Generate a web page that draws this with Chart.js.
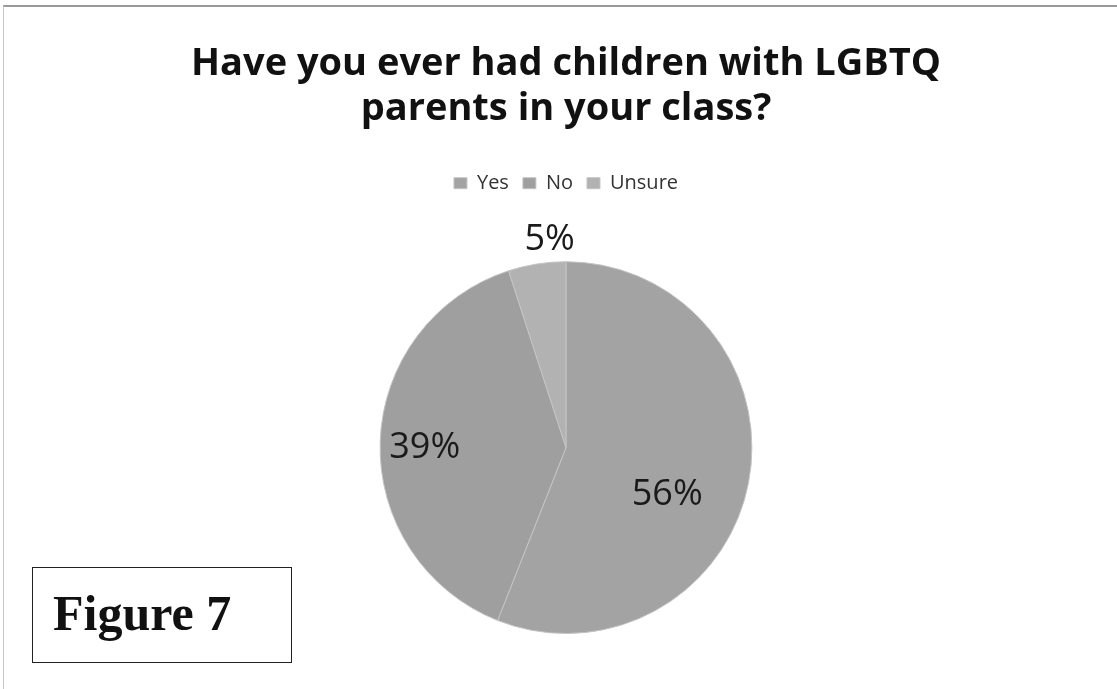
<!DOCTYPE html>
<html>
<head>
<meta charset="utf-8">
<script src="https://cdn.jsdelivr.net/npm/chart.js@4/dist/chart.umd.min.js"></script>
<style>
  html, body { margin: 0; padding: 0; background: #fff; }
  body { width: 1117px; height: 689px; position: relative; overflow: hidden; }
  #frame {
    position: absolute; left: 3px; top: 5px; width: 1120px; height: 700px;
    border-top: 2px solid #9a9a9a; border-left: 1px solid #c8c8c8;
  }
  #chartBox { position: absolute; left: 15px; top: 0; width: 1102px; height: 689px; }
  #figLabel {
    position: absolute; left: 32px; top: 567px; width: 260px; height: 96px;
    border: 1.5px solid #222; background: #fff;
    font-family: "Liberation Serif", "Times New Roman", serif; font-weight: bold;
    font-size: 50px; color: #111; line-height: 90px; padding-left: 20px; box-sizing: border-box;
  }
</style>
</head>
<body>
<div id="frame"></div>
<div id="chartBox"><canvas id="pieChart"></canvas></div>
<div id="figLabel">Figure 7</div>
<script>
// Survey answers, percent of respondents
const answers = ['Yes', 'No', 'Unsure'];
const shares = [56, 39, 5];
const sliceColors = ['#a3a3a3', '#9f9f9f', '#b2b2b2'];

// where each percentage sits: fraction of radius, extra angle (deg) from slice middle
const labelRadius = [0.6, 0.76, 1.12];
const labelTurn = [14, -2, 4.5];

// leave room under the legend for the outside label
const legendGap = {
  id: 'legendGap',
  beforeInit(chart) {
    const origFit = chart.legend.fit;
    chart.legend.fit = function () {
      origFit.call(this);
      this.height += 58;
    };
  }
};

const pctLabels = {
  id: 'pctLabels',
  afterDatasetsDraw(chart) {
    const ctx = chart.ctx;
    const meta = chart.getDatasetMeta(0);
    ctx.save();
    ctx.font = '36px "Open Sans", sans-serif';
    ctx.fillStyle = '#1a1a1a';
    ctx.textAlign = 'center';
    ctx.textBaseline = 'middle';
    meta.data.forEach((arc, i) => {
      const p = arc.getProps(['x', 'y', 'startAngle', 'endAngle', 'outerRadius'], true);
      const mid = (p.startAngle + p.endAngle) / 2 + labelTurn[i] * Math.PI / 180;
      const r = p.outerRadius * labelRadius[i];
      ctx.fillText(shares[i] + '%', p.x + Math.cos(mid) * r, p.y + Math.sin(mid) * r);
    });
    ctx.restore();
  }
};

const chart = new Chart(document.getElementById('pieChart'), {
  type: 'pie',
  data: {
    labels: answers,
    datasets: [{
      data: shares,
      backgroundColor: sliceColors,
      borderColor: '#c4c4c4',
      borderWidth: 1
    }]
  },
  options: {
    responsive: true,
    maintainAspectRatio: false,
    animation: false,
    layout: { padding: { left: 0, right: 0, top: 0, bottom: 55 } },
    plugins: {
      title: {
        display: true,
        text: ['Have you ever had children with LGBTQ', 'parents in your class?'],
        font: { family: '"Open Sans", sans-serif', size: 38, weight: 'bold', lineHeight: 1.2 },
        color: '#111',
        padding: { top: 41, bottom: 27 }
      },
      legend: {
        position: 'top',
        labels: {
          font: { family: '"Open Sans", sans-serif', size: 20 },
          color: '#333',
          boxWidth: 13,
          boxHeight: 11,
          padding: 14
        }
      },
      tooltip: { enabled: false }
    }
  },
  plugins: [legendGap, pctLabels]
});
</script>
</body>
</html>
